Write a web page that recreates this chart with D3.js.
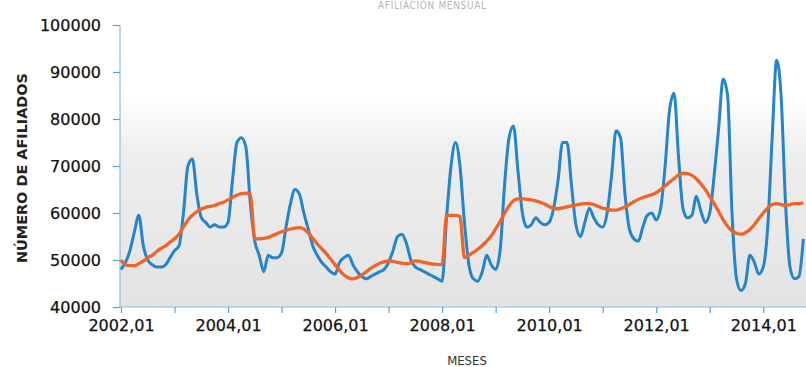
<!DOCTYPE html>
<html>
<head>
<meta charset="utf-8">
<script src="https://cdn.jsdelivr.net/npm/d3@7"></script>
<style>
  body { margin: 0; background: #fff; }
  svg { display: block; }
</style>
</head>
<body>
<div id="chart"></div>
<script>
// const
const width = 806
const height = 367
const margin = { top: 25, bottom: 60, left: 121, right: 3 }

// data (2002,01 .. 2014,10)
const startYear = 2002
const afiliados = [
  48000, 49500, 52000, 56000, 59500, 53000, 50000, 49000, 48500, 48500, 49000, 50500,
  52000, 53000, 60000, 70000, 71500, 64000, 59000, 58000, 57000, 57500, 57000, 57000,
  58000, 67000, 75000, 76000, 74000, 62000, 54000, 51000, 47500, 51000, 50500, 50500,
  51500, 57000, 62000, 65000, 64000, 60000, 56500, 53000, 51000, 49500, 48500, 47500,
  47000, 49500, 50500, 51000, 49000, 47500, 46500, 46000, 46500, 47000, 47500, 48000,
  49500, 52000, 55000, 55500, 53500, 50000, 48500, 48000, 47500, 47000, 46500, 46000,
  45500, 59000, 70000, 75000, 70000, 58000, 49000, 46000, 45500, 47500, 51000, 49000,
  48000, 52000, 66000, 76000, 78500, 69000, 60000, 57000, 57500, 59000, 58000, 57500,
  58000, 61000, 67000, 75000, 75000, 66000, 57500, 55000, 58000, 61000, 59000, 57500,
  57000, 60000, 68000, 77500, 76000, 64000, 56500, 54500, 54000, 57000, 59500, 60000,
  58500, 61000, 70000, 82000, 85500, 72000, 61000, 59000, 59500, 63500, 60500, 58000,
  60000, 68000, 78000, 88500, 85000, 60000, 46000, 43500, 45000, 51000, 49500, 47000,
  48500, 57000, 76000, 92500, 85000, 62000, 48500, 46000, 46500, 54500
]
const tendencia = [
  50000, 49000, 48800, 48800, 49200, 49800, 50500, 51000, 51800, 52500, 53000, 53800,
  54500, 55500, 57000, 58500, 59500, 60300, 60800, 61200, 61400, 61600, 62000, 62300,
  62800, 63300, 63800, 64100, 64200, 64000, 54500, 54500, 54600, 54800, 55200, 55600,
  56000, 56300, 56600, 56800, 56900, 56600, 55800, 54600, 53400, 52400, 51400, 50200,
  49000, 47800, 46800, 46200, 46000, 46300, 46800, 47500, 48200, 48800, 49300, 49600,
  49800, 49700, 49500, 49300, 49200, 49400, 49800, 49700, 49500, 49300, 49100, 49000,
  49000, 59500, 59500, 59500, 59300, 50500, 51000, 51600, 52300, 53100, 54000, 55100,
  56600, 58200, 59900, 61500, 62600, 63000, 63000, 62900, 62800, 62600, 62300, 61900,
  61400, 61000, 60900, 61100, 61300, 61500, 61700, 61900, 62000, 62000, 61800, 61400,
  61000, 60800, 60600, 60600, 60900, 61300, 61800, 62400, 62900, 63300, 63600, 63900,
  64300, 65000, 65800, 66600, 67300, 68100, 68500, 68400, 68000, 67300, 66200, 65000,
  63500, 62000, 60300, 58600, 57200, 56200, 55700, 55500, 55800, 56500, 57500, 58800,
  60000, 61000, 61800, 62000, 61800, 61600, 61800, 62000, 62000, 62100
]
const yTicks = [40000, 50000, 60000, 70000, 80000, 90000, 100000]

const meses = afiliados.map((d, i) =>
  `${startYear + Math.floor(i / 12)},${String(i % 12 + 1).padStart(2, '0')}`)

// svg
const svg = d3.select("#chart")
  .append("svg")
    .attr("width", width)
    .attr("height", height)

const defs = svg.append("defs")
const grad = defs.append("linearGradient")
  .attr("id", "bg").attr("x1", 0).attr("y1", 0).attr("x2", 0).attr("y2", 1)
grad.append("stop").attr("offset", "0%").attr("stop-color", "#ffffff")
grad.append("stop").attr("offset", "25%").attr("stop-color", "#ffffff")
grad.append("stop").attr("offset", "45%").attr("stop-color", "#eeeeee")
grad.append("stop").attr("offset", "100%").attr("stop-color", "#e3e3e3")

// scales
const x = d3.scalePoint()
  .domain(meses)
  .range([margin.left, margin.left + 4.46 * (meses.length - 1)])

const y = d3.scaleLinear()
  .domain([40000, 100000])
  .range([height - margin.bottom, margin.top])

// plot background
svg.append("rect")
  .attr("x", 120)
  .attr("y", y(100000))
  .attr("width", width - 120)
  .attr("height", y(40000) - y(100000))
  .attr("fill", "url(#bg)")

// title (faint, at the very top)
svg.append("text")
  .attr("x", 432).attr("y", 9)
  .attr("text-anchor", "middle")
  .attr("font-family", "DejaVu Sans Condensed, DejaVu Sans")
  .attr("font-size", 10)
  .attr("fill", "#b5b5b5")
  .attr("textLength", 108)
  .text("AFILIACIÓN MENSUAL")

// axes
const yAxis = d3.axisLeft(y).tickValues(yTicks).tickFormat(d3.format("d"))
  .tickSize(7).tickPadding(12)
const xAxis = d3.axisBottom(x)
  .tickValues(meses.filter((d, i) => i % 12 === 0))
  .tickFormat(d => meses.indexOf(d) % 24 === 0 ? d : "")
  .tickSize(6).tickPadding(7)

const yAxisGroup = svg.append("g")
  .attr("transform", "translate(120,0)")
  .call(yAxis)
const xAxisGroup = svg.append("g")
  .attr("transform", `translate(0,${y(40000)})`)
  .call(xAxis)

yAxisGroup.select(".domain").attr("d", `M0,${y(100000)}V${y(40000)}`)
xAxisGroup.select(".domain").attr("d", `M120,0H${width}`)

svg.selectAll(".domain").attr("stroke", "#8bbce6").attr("stroke-width", 1.2)
svg.selectAll(".tick line").attr("stroke", "#5aa0dc").attr("stroke-width", 1.2)
svg.selectAll(".tick text")
  .attr("font-family", "DejaVu Sans")
  .attr("font-size", 16)
  .attr("fill", "#111")
  .attr("stroke", "#111")
  .attr("stroke-width", 0.25)

// axis titles
svg.append("text")
  .attr("transform", "translate(27,168) rotate(-90)")
  .attr("text-anchor", "middle")
  .attr("font-family", "DejaVu Sans Condensed, DejaVu Sans")
  .attr("font-weight", "bold")
  .attr("font-size", 14)
  .attr("fill", "#222")
  .attr("textLength", 190)
  .attr("lengthAdjust", "spacingAndGlyphs")
  .text("NÚMERO DE AFILIADOS")

svg.append("text")
  .attr("x", 467).attr("y", 365)
  .attr("text-anchor", "middle")
  .attr("font-family", "DejaVu Sans Condensed, DejaVu Sans")
  .attr("font-size", 13)
  .attr("fill", "#333")
  .text("MESES")

// lines
const line = d3.line()
  .x((d, i) => x(meses[i]))
  .y(d => y(d))
  .curve(d3.curveMonotoneX)

svg.append("path")
  .datum(afiliados)
  .attr("fill", "none")
  .attr("stroke", "#2484cc")
  .attr("stroke-width", 3)
  .attr("stroke-linejoin", "round")
  .attr("d", line)

svg.append("path")
  .datum(tendencia)
  .attr("fill", "none")
  .attr("stroke", "#f0642a")
  .attr("stroke-width", 3.3)
  .attr("stroke-linejoin", "round")
  .attr("d", line)
</script>
</body>
</html>
